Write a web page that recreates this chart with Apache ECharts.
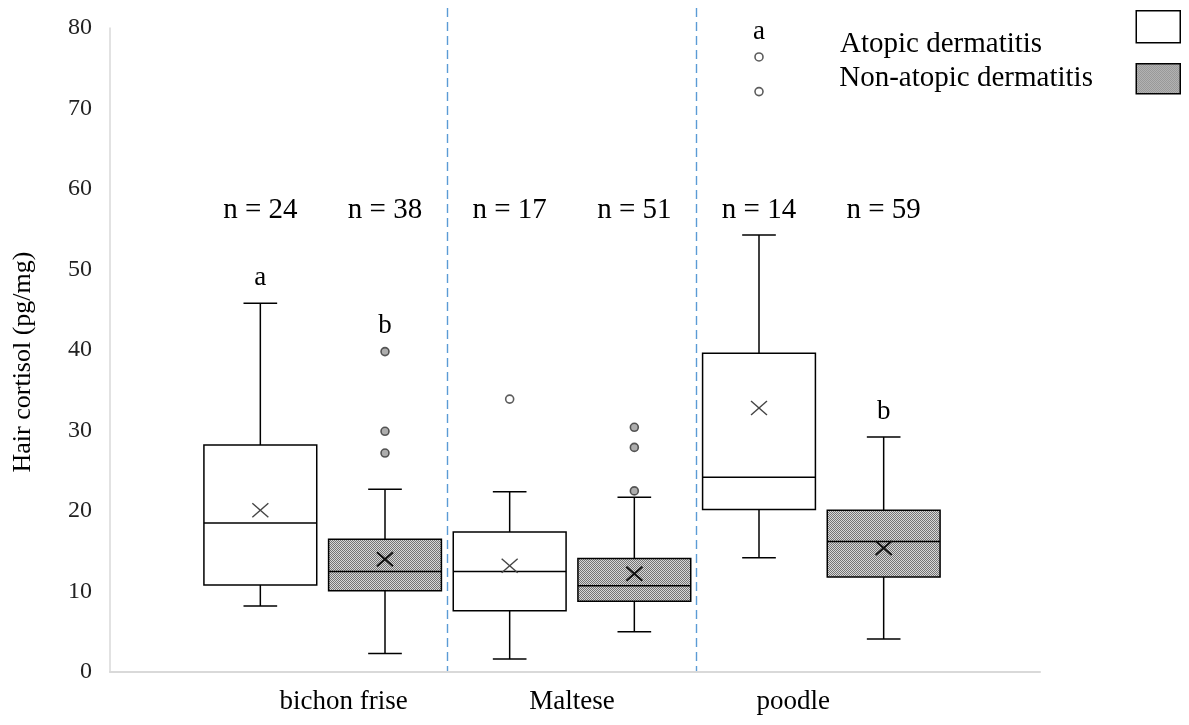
<!DOCTYPE html>
<html><head><meta charset="utf-8">
<script src="https://cdn.jsdelivr.net/npm/echarts@6/dist/echarts.min.js"></script>
<style>html,body{margin:0;padding:0;background:#fff}#c{width:1189px;height:725px}</style>
</head><body><div id="c"></div>
<script>
// ---------- data ----------
const breeds = ['bichon frise', 'Maltese', 'poodle'];
const groups = ['Atopic dermatitis', 'Non-atopic dermatitis'];
// [lower whisker, Q1, median, Q3, upper whisker]
const adBoxes  = [[8.2, 10.8, 18.5, 28.2, 45.8], [1.6, 7.6, 12.5, 17.4, 22.4], [14.2, 20.2, 24.2, 39.6, 54.3]];
const nadBoxes = [[2.3, 10.1, 12.5, 16.5, 22.7], [5.0, 8.8, 10.7, 14.1, 21.7], [4.1, 11.8, 16.2, 20.1, 29.2]];
const adMeans  = [20.1, 13.2, 32.8];
const nadMeans = [14.0, 12.2, 15.4];
const adOutliers  = [[], [33.9], [72.1, 76.4]];
const nadOutliers = [[39.8, 29.9, 27.2], [30.4, 27.9, 22.5], []];
const adN  = [24, 17, 14];
const nadN = [38, 51, 59];
const adLetters  = ['a', '', 'a'];
const nadLetters = ['b', '', 'b'];
const yMin = 0, yMax = 80, yInterval = 10;
const nLabelValue = 57.4;

// ---------- layout ----------
const FRAME_TOP = 28, PLOT_TOP = 8, BOTTOM = 53, H = 725;
// plot grid is taller (for the divider lines); its hidden y axis keeps the same scale
const plotYMax = yMax * (H - BOTTOM - PLOT_TOP) / (H - BOTTOM - FRAME_TOP);

const FONT = '"Liberation Serif", "Times New Roman", serif';
function makePattern() {
  const c = document.createElement('canvas');
  c.width = 2; c.height = 2;
  const g = c.getContext('2d');
  g.fillStyle = '#d8d8d8'; g.fillRect(0, 0, 2, 2);
  g.fillStyle = '#747474'; g.fillRect(0, 0, 1, 1); g.fillRect(1, 1, 1, 1);
  return { image: c, repeat: 'repeat' };
}
const pattern = makePattern();

const slots = [];
breeds.forEach(b => groups.forEach(g => slots.push(b + ' / ' + g)));

function boxData(boxes, means, outs, gi) {
  return boxes.map((b, i) => {
    const top = Math.max(b[4], ...outs[i]);
    return [i * 2 + gi, b[0], b[1], b[2], b[3], b[4], means[i], top];
  });
}
function outlierData(outs, gi) {
  const d = [];
  outs.forEach((arr, i) => arr.forEach(v => d.push([i * 2 + gi, v])));
  return d;
}

function makeRender(fill, ns, letters, meanColor, meanWidth) {
  return function (params, api) {
    const i = params.dataIndex;
    const slot = api.value(0);
    const band = api.size([1, 0])[0];
    const bw = band * 0.905, cw = band * 0.27;
    const pLow = api.coord([slot, api.value(1)]);
    const pQ1 = api.coord([slot, api.value(2)]);
    const pMed = api.coord([slot, api.value(3)]);
    const pQ3 = api.coord([slot, api.value(4)]);
    const pHigh = api.coord([slot, api.value(5)]);
    const pMean = api.coord([slot, api.value(6)]);
    const pTop = api.coord([slot, api.value(7)]);
    const pN = api.coord([slot, nLabelValue]);
    const x = pMed[0];
    const ls = { stroke: '#000', lineWidth: 1.5 };
    const xs = 8, ys = 7;
    const children = [
      { type: 'line', shape: { x1: x, y1: pQ3[1], x2: x, y2: pHigh[1] }, style: ls },
      { type: 'line', shape: { x1: x, y1: pQ1[1], x2: x, y2: pLow[1] }, style: ls },
      { type: 'line', shape: { x1: x - cw / 2, y1: pHigh[1], x2: x + cw / 2, y2: pHigh[1] }, style: ls },
      { type: 'line', shape: { x1: x - cw / 2, y1: pLow[1], x2: x + cw / 2, y2: pLow[1] }, style: ls },
      { type: 'rect', shape: { x: x - bw / 2, y: pQ3[1], width: bw, height: pQ1[1] - pQ3[1] },
        style: { fill: fill, stroke: '#000', lineWidth: 1.5 } },
      { type: 'line', shape: { x1: x - bw / 2, y1: pMed[1], x2: x + bw / 2, y2: pMed[1] }, style: ls },
      { type: 'line', shape: { x1: x - xs, y1: pMean[1] - ys, x2: x + xs, y2: pMean[1] + ys }, style: { stroke: meanColor, lineWidth: meanWidth } },
      { type: 'line', shape: { x1: x - xs, y1: pMean[1] + ys, x2: x + xs, y2: pMean[1] - ys }, style: { stroke: meanColor, lineWidth: meanWidth } },
      { type: 'text', style: { text: 'n = ' + ns[i], x: x, y: pN[1], align: 'center', verticalAlign: 'middle',
        fontFamily: FONT, fontSize: 29, fill: '#000' } }
    ];
    if (letters[i]) {
      children.push({ type: 'text', style: { text: letters[i], x: x, y: pTop[1] - 12, align: 'center', verticalAlign: 'bottom',
        fontFamily: FONT, fontSize: 27, fill: '#000' } });
    }
    return { type: 'group', children: children };
  };
}

const legendText = { fontFamily: FONT, fontSize: 29, color: '#000' };
const chart = echarts.init(document.getElementById('c'));
chart.setOption({
  animation: false,
  backgroundColor: '#fff',
  grid: [
    { left: 198, right: 243, top: PLOT_TOP, bottom: BOTTOM },
    { left: 110, right: 149, top: FRAME_TOP, bottom: BOTTOM }
  ],
  legend: [
    { // icon of "Atopic dermatitis"
      orient: 'vertical', right: 8, top: 10, padding: 0, align: 'right', icon: 'rect',
      itemWidth: 44, itemHeight: 32, formatter: () => '', textStyle: legendText,
      data: [{ name: groups[0], itemStyle: { color: '#fff', borderColor: '#000', borderWidth: 1.5 } }]
    },
    { // text of "Atopic dermatitis"
      orient: 'vertical', left: 835, top: 28, padding: 0, align: 'left', icon: 'rect',
      itemWidth: 0, itemHeight: 32, textStyle: legendText,
      data: [{ name: groups[0], itemStyle: { color: 'transparent', borderWidth: 0 } }]
    },
    { // "Non-atopic dermatitis"
      orient: 'vertical', right: 8, top: 63, padding: 0, align: 'right', icon: 'rect',
      itemWidth: 44, itemHeight: 30,
      formatter: name => '{e|' + name + '}',
      textStyle: Object.assign({}, legendText, {
        rich: { e: Object.assign({}, legendText, { width: 284, align: 'left', padding: [0, 8, 0, 0] }) }
      }),
      data: [{ name: groups[1], itemStyle: { color: pattern, borderColor: '#000', borderWidth: 1.5 } }]
    }
  ],
  xAxis: [
    { type: 'category', gridIndex: 0, data: slots, show: false, position: 'top' },
    { type: 'category', gridIndex: 0, data: breeds, position: 'bottom',
      axisLine: { show: false }, axisTick: { show: false },
      axisLabel: {
        margin: 16, fontFamily: FONT, fontSize: 27, color: '#000',
        formatter: (v, i) => '{c' + i + '|' + v + '}',
        rich: {
          c0: { fontFamily: FONT, fontSize: 27, color: '#000', padding: [0, 0, 0, 42] },
          c1: { fontFamily: FONT, fontSize: 27, color: '#000' },
          c2: { fontFamily: FONT, fontSize: 27, color: '#000', padding: [0, 56, 0, 0] }
        }
      },
      splitLine: { show: true, showMinLine: false, showMaxLine: false,
        lineStyle: { color: '#5b9bd5', width: 1.4, type: [9, 5] } }
    },
    { type: 'value', gridIndex: 1, min: 0, max: 1,
      axisLine: { show: true, lineStyle: { color: '#d9d9d9', width: 2 } },
      axisTick: { show: false }, axisLabel: { show: false }, splitLine: { show: false } }
  ],
  yAxis: [
    { type: 'value', gridIndex: 0, min: yMin, max: plotYMax, show: false, splitLine: { show: false } },
    { type: 'value', gridIndex: 1, min: yMin, max: yMax, interval: yInterval,
      name: 'Hair cortisol (pg/mg)', nameLocation: 'middle', nameGap: 74,
      nameTextStyle: { fontFamily: FONT, fontSize: 26, color: '#000', padding: [0, 24, 0, 0] },
      axisLine: { show: true, lineStyle: { color: '#d9d9d9', width: 1.5 } },
      axisTick: { show: false },
      axisLabel: { margin: 18, fontFamily: FONT, fontSize: 24, color: '#222' },
      splitLine: { show: false } }
  ],
  series: [
    { name: groups[0], type: 'custom', xAxisIndex: 0, yAxisIndex: 0,
      itemStyle: { color: '#fff', borderColor: '#000' },
      renderItem: makeRender('#fff', adN, adLetters, '#444', 1.4),
      data: boxData(adBoxes, adMeans, adOutliers, 0), encode: { x: 0, y: [1, 2, 3, 4, 5] }, z: 2 },
    { name: groups[1], type: 'custom', xAxisIndex: 0, yAxisIndex: 0,
      itemStyle: { color: pattern, borderColor: '#000' },
      renderItem: makeRender(pattern, nadN, nadLetters, '#111', 2),
      data: boxData(nadBoxes, nadMeans, nadOutliers, 1), encode: { x: 0, y: [1, 2, 3, 4, 5] }, z: 2 },
    { name: groups[0], type: 'scatter', xAxisIndex: 0, yAxisIndex: 0, symbol: 'circle', symbolSize: 8,
      itemStyle: { color: '#fff', borderColor: '#333', borderWidth: 1.6 }, data: outlierData(adOutliers, 0), z: 3 },
    { name: groups[1], type: 'scatter', xAxisIndex: 0, yAxisIndex: 0, symbol: 'circle', symbolSize: 8,
      itemStyle: { color: '#999', borderColor: '#333', borderWidth: 1.6 }, data: outlierData(nadOutliers, 1), z: 3 }
  ]
});
</script></body></html>
